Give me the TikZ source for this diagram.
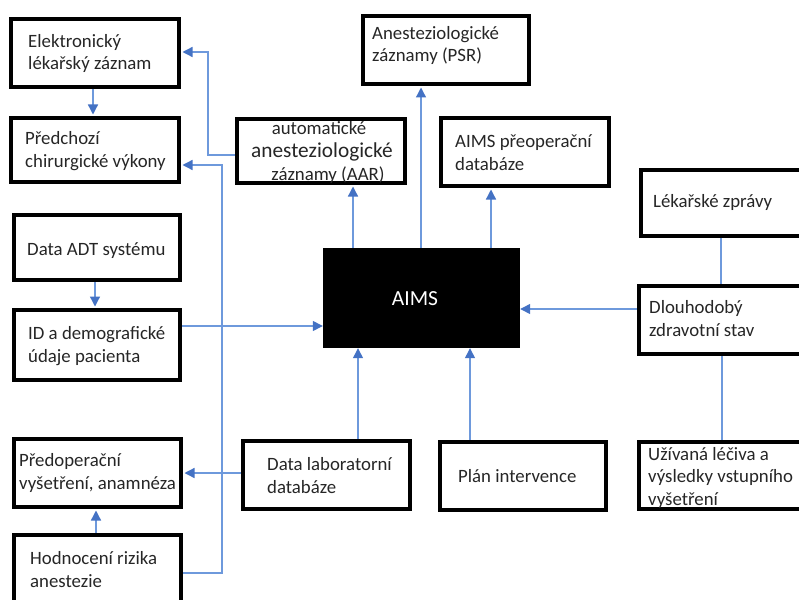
\documentclass[tikz,border=0pt]{standalone}
\usepackage{fontspec}
\setmainfont{Carlito}
\usetikzlibrary{arrows.meta}
\definecolor{lineblue}{HTML}{6E99DC}
\definecolor{tipblue}{HTML}{4472C4}
\tikzset{
  box/.style={draw=black, line width=4pt, fill=white, inner sep=0pt, anchor=center},
  aimsbox/.style={fill=black, inner sep=0pt, anchor=center},
  lbl/.style={inner sep=0pt, anchor=base west, align=left, font=\fontsize{18.8}{22.5}\selectfont, text=black!85},
  clbl/.style={inner sep=0pt, anchor=base, align=center, font=\fontsize{18.8}{22.5}\selectfont, text=black!85},
  conn/.style={draw=lineblue, line width=1.3pt},
  arr/.style={conn, -{Triangle[length=10pt,width=10pt,color=tipblue]}, shorten >=1.5pt},
  arrb/.style={conn, -{Triangle[length=10pt,width=10pt,color=tipblue]}}
}
\begin{document}
\begin{tikzpicture}[x=1pt,y=-1pt]
\useasboundingbox (0,0) rectangle (799,599);
\clip (0,0) rectangle (799,599);
% boxes
\node[box, minimum width=168pt, minimum height=68pt] (elr) at (95,53) {};
\node[box, minimum width=168pt, minimum height=64pt] (pred) at (95,150) {};
\node[box, minimum width=168pt, minimum height=64pt] (aar) at (321,151) {};
\node[box, minimum width=166pt, minimum height=68pt] (psr) at (446,50) {};
\node[box, minimum width=168pt, minimum height=68pt] (db) at (525,152) {};
\node[box, minimum width=172pt, minimum height=66pt] (lz) at (727,203) {};
\node[box, minimum width=166pt, minimum height=65pt] (adt) at (97,247.5) {};
\node[box, minimum width=166pt, minimum height=70pt] (id) at (97,345) {};
\node[aimsbox, minimum width=197pt, minimum height=100pt] (aims) at (421.5,298) {};
\node[box, minimum width=174pt, minimum height=68pt] (dl) at (726,320) {};
\node[box, minimum width=167pt, minimum height=68pt] (predop) at (97.5,473) {};
\node[box, minimum width=167pt, minimum height=83pt] (hod) at (97.5,576.5) {};
\node[box, minimum width=167pt, minimum height=68pt] (lab) at (326.5,475) {};
\node[box, minimum width=166pt, minimum height=68pt] (plan) at (523,476) {};
\node[box, minimum width=174pt, minimum height=67pt] (uz) at (726,475.5) {};
% texts (base anchor = last line baseline)
\node[lbl] (t-elr) at (28,70) {Elektronický\\lékařský záznam};
\node[lbl] (t-pred) at (25,167) {Předchozí\\chirurgické výkony};
\node[clbl] (t-aar1) at (319,134) {automatické};
\node[clbl, font=\fontsize{21.3}{24}\selectfont] (t-aar2) at (322,157) {anesteziologické};
\node[clbl] (t-aar3) at (328,180) {záznamy (AAR)};
\node[lbl] (t-psr) at (372,62) {Anesteziologické\\záznamy (PSR)};
\node[lbl] (t-db) at (455,170) {AIMS přeoperační\\databáze};
\node[lbl] (t-lz) at (653,207) {Lékařské zprávy};
\node[lbl] (t-adt) at (27,255) {Data ADT systému};
\node[lbl] (t-id) at (28,362) {ID a demografické\\údaje pacienta};
\node[clbl, text=white, font=\fontsize{21.5}{24}\selectfont] (t-aims) at (415,305) {AIMS};
\node[lbl] (t-dl) at (649,336) {Dlouhodobý\\zdravotní stav};
\node[lbl] (t-predop) at (19,489) {Předoperační\\vyšetření, anamnéza};
\node[lbl] (t-hod) at (30,587) {Hodnocení rizika\\anestezie};
\node[lbl] (t-lab) at (267,493) {Data laboratorní\\databáze};
\node[lbl] (t-plan) at (458,482) {Plán intervence};
\node[lbl] (t-uz) at (648,505) {Užívaná léčiva a\\výsledky vstupního\\vyšetření};
% connectors
\draw[arr] (elr.south -| 93,0) -- (pred.north -| 93,0);
\draw[arr] (aar.west |- 0,155) -- (208,155) -- (208,52) -- (elr.east |- 0,52);
\draw[arr] (hod.east |- 0,573) -- (222,573) -- (222,165) -- (pred.east |- 0,165);
\draw[arr] (adt.south -| 95,0) -- (id.north -| 95,0);
\draw[arrb] (id.east |- 0,326) -- (aims.west |- 0,326);
\draw[arr] (aims.north -| 353,0) -- (aar.south -| 353,0);
\draw[arr] (aims.north -| 421,0) -- (psr.south -| 421,0);
\draw[arr] (aims.north -| 491,0) -- (db.south -| 491,0);
\draw[arrb] (dl.west |- 0,309) -- (aims.east |- 0,309);
\draw[conn] (lz.south -| 721,0) -- (dl.north -| 721,0);
\draw[conn] (dl.south -| 722,0) -- (uz.north -| 722,0);
\draw[arrb] (lab.north -| 358,0) -- (aims.south -| 358,0);
\draw[arrb] (plan.north -| 470,0) -- (aims.south -| 470,0);
\draw[arr] (lab.west |- 0,473) -- (predop.east |- 0,473);
\draw[arr] (hod.north -| 96,0) -- (predop.south -| 96,0);
\end{tikzpicture}
\end{document}
